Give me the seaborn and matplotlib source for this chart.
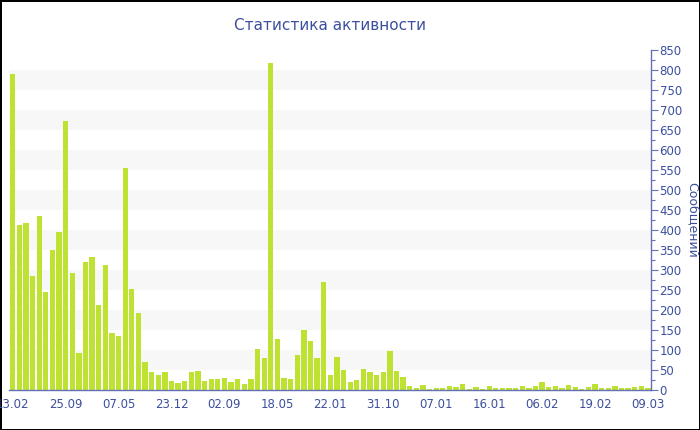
import numpy as np
import pandas as pd
import seaborn as sns
import matplotlib.pyplot as plt
from matplotlib.ticker import MultipleLocator

# Messages per period
messages = [
    789, 413, 417, 284, 435, 246, 350, 395, 673, 292, 92, 321,
    332, 212, 312, 142, 136, 554, 252, 192, 70, 44, 37, 44,
    23, 17, 22, 44, 47, 23, 27, 27, 30, 19, 27, 15,
    27, 102, 79, 817, 127, 29, 27, 87, 151, 123, 81, 271,
    38, 82, 50, 19, 24, 53, 45, 37, 45, 97, 47, 33,
    10, 5, 12, 3, 4, 4, 9, 7, 14, 3, 8, 3,
    9, 4, 4, 6, 4, 11, 5, 9, 20, 7, 9, 5,
    12, 7, 3, 7, 14, 5, 5, 9, 5, 5, 7, 11, 5,
]
tick_labels = ['13.02', '25.09', '07.05', '23.12', '02.09', '18.05', '22.01',
               '31.10', '07.01', '16.01', '06.02', '19.02', '09.03']
tick_step = 8

df = pd.DataFrame({'idx': np.arange(len(messages)), 'count': messages})

sns.set_theme(style='white')
plt.rcParams['font.family'] = ['DejaVu Sans']

text_col = '#3c4f9e'
axis_col = '#6270b4'
bar_col = '#bde231'

fig = plt.figure(figsize=(7, 4.3), dpi=100)
fig.patch.set_edgecolor('black')
fig.patch.set_linewidth(2)
ax = fig.add_axes([0.0134, 0.093, 0.917, 0.791])

# alternating background bands
for lo in range(50, 850, 100):
    ax.axhspan(lo, lo + 50, color='#f7f7f7', zorder=0, lw=0)

sns.barplot(data=df, x='idx', y='count', color=bar_col, width=0.8,
            saturation=1, linewidth=0, edgecolor='none', ax=ax, zorder=2)

ax.set_xlim(-0.5, len(messages) - 0.5)
ax.set_ylim(0, 850)

ax.set_xticks(range(0, len(messages), tick_step))
ax.set_xticklabels(tick_labels)
ax.yaxis.set_major_locator(MultipleLocator(50))
ax.yaxis.set_minor_locator(MultipleLocator(25))
ax.yaxis.tick_right()
ax.yaxis.set_label_position('right')

for s in ['top', 'left']:
    ax.spines[s].set_visible(False)
for s in ['right', 'bottom']:
    ax.spines[s].set_color(axis_col)
    ax.spines[s].set_linewidth(1)

ax.tick_params(axis='both', which='both', colors=axis_col, labelcolor=text_col,
               labelsize=8.5, direction='out')
ax.tick_params(axis='y', which='major', length=5, width=0.8, pad=1)
ax.tick_params(axis='y', which='minor', length=3, width=0.8)
ax.tick_params(axis='x', which='major', length=4, width=0.8, pad=2)

ax.set_xlabel('')
ax.set_ylabel('Сообщений', color=text_col, fontsize=9, rotation=270, labelpad=12)
ax.set_title('Статистика активности', color=text_col, fontsize=11, pad=14)

fig.savefig('out.png', dpi=100)
